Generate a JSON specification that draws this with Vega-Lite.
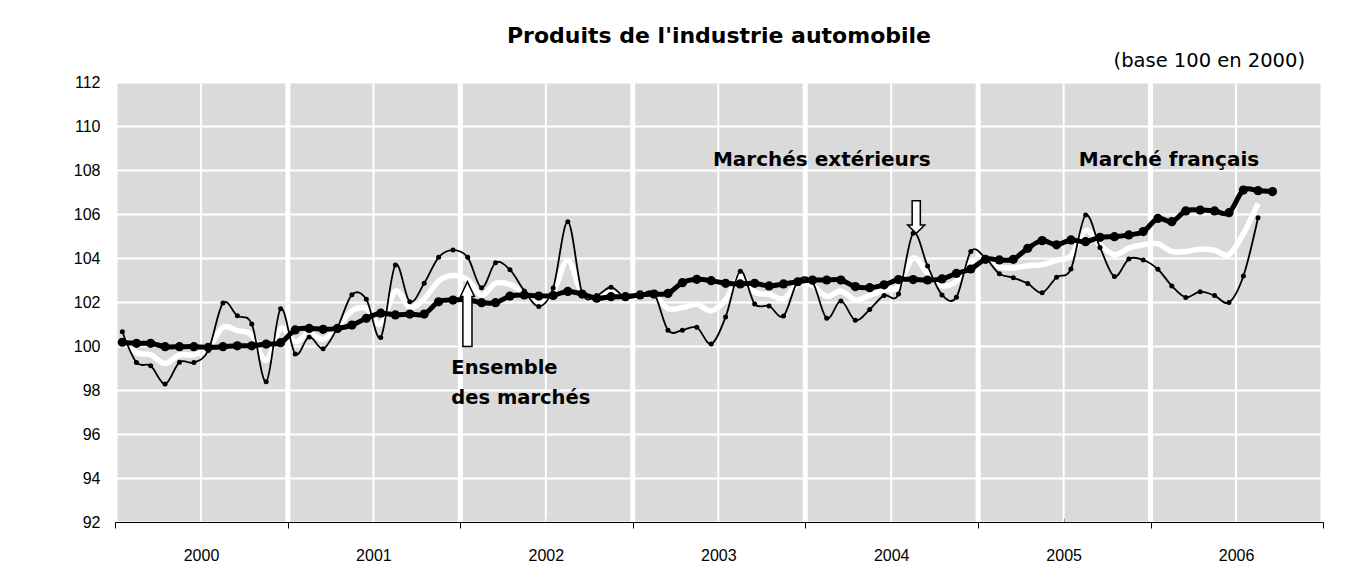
{
  "$schema": "https://vega.github.io/schema/vega-lite/v6.json",
  "width": 1208,
  "height": 440,
  "autosize": {"type": "none"},
  "padding": {"left": 115, "top": 82, "right": 49, "bottom": 48},
  "background": "#ffffff",
  "title": {
    "text": "Produits de l'industrie automobile",
    "anchor": "middle",
    "frame": "group",
    "font": "DejaVu Sans",
    "fontSize": 22,
    "fontWeight": "bold",
    "color": "#000000",
    "offset": 3
  },
  "datasets": {
    "annees": [{"d": "2000-01-01"}, {"d": "2001-01-01"}, {"d": "2002-01-01"}, {"d": "2003-01-01"}, {"d": "2004-01-01"}, {"d": "2005-01-01"}, {"d": "2006-01-01"}, {"d": "2007-01-01"}],
    "semestres": [{"d": "2000-07-01"}, {"d": "2001-07-01"}, {"d": "2002-07-01"}, {"d": "2003-07-01"}, {"d": "2004-07-01"}, {"d": "2005-07-01"}, {"d": "2006-07-01"}],
    "francais": [
      {"mois": "2000-01", "indice": 100.17}, {"mois": "2000-02", "indice": 100.12}, {"mois": "2000-03", "indice": 100.12}, {"mois": "2000-04", "indice": 99.97}, {"mois": "2000-05", "indice": 99.97}, {"mois": "2000-06", "indice": 99.97}, {"mois": "2000-07", "indice": 99.94}, {"mois": "2000-08", "indice": 99.97}, {"mois": "2000-09", "indice": 100.01}, {"mois": "2000-10", "indice": 100.01}, {"mois": "2000-11", "indice": 100.09}, {"mois": "2000-12", "indice": 100.15},
      {"mois": "2001-01", "indice": 100.73}, {"mois": "2001-02", "indice": 100.8}, {"mois": "2001-03", "indice": 100.76}, {"mois": "2001-04", "indice": 100.8}, {"mois": "2001-05", "indice": 100.95}, {"mois": "2001-06", "indice": 101.26}, {"mois": "2001-07", "indice": 101.49}, {"mois": "2001-08", "indice": 101.41}, {"mois": "2001-09", "indice": 101.45}, {"mois": "2001-10", "indice": 101.45}, {"mois": "2001-11", "indice": 102.01}, {"mois": "2001-12", "indice": 102.09},
      {"mois": "2002-01", "indice": 102.1}, {"mois": "2002-02", "indice": 101.97}, {"mois": "2002-03", "indice": 101.97}, {"mois": "2002-04", "indice": 102.27}, {"mois": "2002-05", "indice": 102.32}, {"mois": "2002-06", "indice": 102.27}, {"mois": "2002-07", "indice": 102.3}, {"mois": "2002-08", "indice": 102.48}, {"mois": "2002-09", "indice": 102.36}, {"mois": "2002-10", "indice": 102.17}, {"mois": "2002-11", "indice": 102.24}, {"mois": "2002-12", "indice": 102.24},
      {"mois": "2003-01", "indice": 102.32}, {"mois": "2003-02", "indice": 102.36}, {"mois": "2003-03", "indice": 102.39}, {"mois": "2003-04", "indice": 102.88}, {"mois": "2003-05", "indice": 103.03}, {"mois": "2003-06", "indice": 102.97}, {"mois": "2003-07", "indice": 102.85}, {"mois": "2003-08", "indice": 102.82}, {"mois": "2003-09", "indice": 102.85}, {"mois": "2003-10", "indice": 102.73}, {"mois": "2003-11", "indice": 102.82}, {"mois": "2003-12", "indice": 102.92},
      {"mois": "2004-01", "indice": 103.0}, {"mois": "2004-02", "indice": 103.0}, {"mois": "2004-03", "indice": 103.0}, {"mois": "2004-04", "indice": 102.7}, {"mois": "2004-05", "indice": 102.65}, {"mois": "2004-06", "indice": 102.78}, {"mois": "2004-07", "indice": 103.02}, {"mois": "2004-08", "indice": 103.02}, {"mois": "2004-09", "indice": 103.0}, {"mois": "2004-10", "indice": 103.05}, {"mois": "2004-11", "indice": 103.3}, {"mois": "2004-12", "indice": 103.5},
      {"mois": "2005-01", "indice": 103.94}, {"mois": "2005-02", "indice": 103.91}, {"mois": "2005-03", "indice": 103.94}, {"mois": "2005-04", "indice": 104.44}, {"mois": "2005-05", "indice": 104.79}, {"mois": "2005-06", "indice": 104.6}, {"mois": "2005-07", "indice": 104.82}, {"mois": "2005-08", "indice": 104.74}, {"mois": "2005-09", "indice": 104.94}, {"mois": "2005-10", "indice": 104.97}, {"mois": "2005-11", "indice": 105.05}, {"mois": "2005-12", "indice": 105.2},
      {"mois": "2006-01", "indice": 105.8}, {"mois": "2006-02", "indice": 105.65}, {"mois": "2006-03", "indice": 106.14}, {"mois": "2006-04", "indice": 106.18}, {"mois": "2006-05", "indice": 106.14}, {"mois": "2006-06", "indice": 106.06}, {"mois": "2006-07", "indice": 107.09}, {"mois": "2006-08", "indice": 107.06}, {"mois": "2006-09", "indice": 107.02}
    ],
    "exterieurs": [
      {"mois": "2000-01", "indice": 100.65}, {"mois": "2000-02", "indice": 99.25}, {"mois": "2000-03", "indice": 99.1}, {"mois": "2000-04", "indice": 98.27}, {"mois": "2000-05", "indice": 99.26}, {"mois": "2000-06", "indice": 99.25}, {"mois": "2000-07", "indice": 99.8}, {"mois": "2000-08", "indice": 101.95}, {"mois": "2000-09", "indice": 101.37}, {"mois": "2000-10", "indice": 101.0}, {"mois": "2000-11", "indice": 98.38}, {"mois": "2000-12", "indice": 101.69},
      {"mois": "2001-01", "indice": 99.64}, {"mois": "2001-02", "indice": 100.41}, {"mois": "2001-03", "indice": 99.88}, {"mois": "2001-04", "indice": 100.85}, {"mois": "2001-05", "indice": 102.33}, {"mois": "2001-06", "indice": 102.12}, {"mois": "2001-07", "indice": 100.39}, {"mois": "2001-08", "indice": 103.68}, {"mois": "2001-09", "indice": 102.01}, {"mois": "2001-10", "indice": 102.85}, {"mois": "2001-11", "indice": 104.03}, {"mois": "2001-12", "indice": 104.36},
      {"mois": "2002-01", "indice": 104.03}, {"mois": "2002-02", "indice": 102.65}, {"mois": "2002-03", "indice": 103.78}, {"mois": "2002-04", "indice": 103.47}, {"mois": "2002-05", "indice": 102.5}, {"mois": "2002-06", "indice": 101.8}, {"mois": "2002-07", "indice": 102.64}, {"mois": "2002-08", "indice": 105.65}, {"mois": "2002-09", "indice": 102.4}, {"mois": "2002-10", "indice": 102.3}, {"mois": "2002-11", "indice": 102.67}, {"mois": "2002-12", "indice": 102.2},
      {"mois": "2003-01", "indice": 102.32}, {"mois": "2003-02", "indice": 102.39}, {"mois": "2003-03", "indice": 100.72}, {"mois": "2003-04", "indice": 100.72}, {"mois": "2003-05", "indice": 100.85}, {"mois": "2003-06", "indice": 100.09}, {"mois": "2003-07", "indice": 101.32}, {"mois": "2003-08", "indice": 103.4}, {"mois": "2003-09", "indice": 101.91}, {"mois": "2003-10", "indice": 101.82}, {"mois": "2003-11", "indice": 101.36}, {"mois": "2003-12", "indice": 102.95},
      {"mois": "2004-01", "indice": 102.9}, {"mois": "2004-02", "indice": 101.26}, {"mois": "2004-03", "indice": 102.05}, {"mois": "2004-04", "indice": 101.17}, {"mois": "2004-05", "indice": 101.66}, {"mois": "2004-06", "indice": 102.3}, {"mois": "2004-07", "indice": 102.36}, {"mois": "2004-08", "indice": 105.12}, {"mois": "2004-09", "indice": 103.64}, {"mois": "2004-10", "indice": 102.32}, {"mois": "2004-11", "indice": 102.22}, {"mois": "2004-12", "indice": 104.3},
      {"mois": "2005-01", "indice": 104.0}, {"mois": "2005-02", "indice": 103.28}, {"mois": "2005-03", "indice": 103.1}, {"mois": "2005-04", "indice": 102.84}, {"mois": "2005-05", "indice": 102.42}, {"mois": "2005-06", "indice": 103.12}, {"mois": "2005-07", "indice": 103.5}, {"mois": "2005-08", "indice": 105.95}, {"mois": "2005-09", "indice": 104.48}, {"mois": "2005-10", "indice": 103.16}, {"mois": "2005-11", "indice": 103.95}, {"mois": "2005-12", "indice": 103.91},
      {"mois": "2006-01", "indice": 103.49}, {"mois": "2006-02", "indice": 102.73}, {"mois": "2006-03", "indice": 102.21}, {"mois": "2006-04", "indice": 102.47}, {"mois": "2006-05", "indice": 102.29}, {"mois": "2006-06", "indice": 101.98}, {"mois": "2006-07", "indice": 103.18}, {"mois": "2006-08", "indice": 105.83}
    ],
    "ensemble": [
      {"mois": "2000-01", "indice": 100.4}, {"mois": "2000-02", "indice": 99.7}, {"mois": "2000-03", "indice": 99.6}, {"mois": "2000-04", "indice": 99.2}, {"mois": "2000-05", "indice": 99.6}, {"mois": "2000-06", "indice": 99.6}, {"mois": "2000-07", "indice": 99.9}, {"mois": "2000-08", "indice": 100.85}, {"mois": "2000-09", "indice": 100.7}, {"mois": "2000-10", "indice": 100.5}, {"mois": "2000-11", "indice": 99.35}, {"mois": "2000-12", "indice": 100.8},
      {"mois": "2001-01", "indice": 100.2}, {"mois": "2001-02", "indice": 100.6}, {"mois": "2001-03", "indice": 100.3}, {"mois": "2001-04", "indice": 100.85}, {"mois": "2001-05", "indice": 101.6}, {"mois": "2001-06", "indice": 101.7}, {"mois": "2001-07", "indice": 101.0}, {"mois": "2001-08", "indice": 102.5}, {"mois": "2001-09", "indice": 101.75}, {"mois": "2001-10", "indice": 102.15}, {"mois": "2001-11", "indice": 102.95}, {"mois": "2001-12", "indice": 103.2},
      {"mois": "2002-01", "indice": 103.0}, {"mois": "2002-02", "indice": 102.3}, {"mois": "2002-03", "indice": 102.85}, {"mois": "2002-04", "indice": 102.8}, {"mois": "2002-05", "indice": 102.4}, {"mois": "2002-06", "indice": 102.0}, {"mois": "2002-07", "indice": 102.45}, {"mois": "2002-08", "indice": 103.9}, {"mois": "2002-09", "indice": 102.35}, {"mois": "2002-10", "indice": 102.25}, {"mois": "2002-11", "indice": 102.45}, {"mois": "2002-12", "indice": 102.2},
      {"mois": "2003-01", "indice": 102.3}, {"mois": "2003-02", "indice": 102.35}, {"mois": "2003-03", "indice": 101.7}, {"mois": "2003-04", "indice": 101.75}, {"mois": "2003-05", "indice": 101.9}, {"mois": "2003-06", "indice": 101.6}, {"mois": "2003-07", "indice": 102.1}, {"mois": "2003-08", "indice": 103.15}, {"mois": "2003-09", "indice": 102.45}, {"mois": "2003-10", "indice": 102.35}, {"mois": "2003-11", "indice": 102.15}, {"mois": "2003-12", "indice": 102.8},
      {"mois": "2004-01", "indice": 102.75}, {"mois": "2004-02", "indice": 102.25}, {"mois": "2004-03", "indice": 102.5}, {"mois": "2004-04", "indice": 102.1}, {"mois": "2004-05", "indice": 102.3}, {"mois": "2004-06", "indice": 102.55}, {"mois": "2004-07", "indice": 102.7}, {"mois": "2004-08", "indice": 104.0}, {"mois": "2004-09", "indice": 103.3}, {"mois": "2004-10", "indice": 102.75}, {"mois": "2004-11", "indice": 102.95}, {"mois": "2004-12", "indice": 103.8},
      {"mois": "2005-01", "indice": 103.95}, {"mois": "2005-02", "indice": 103.6}, {"mois": "2005-03", "indice": 103.55}, {"mois": "2005-04", "indice": 103.65}, {"mois": "2005-05", "indice": 103.7}, {"mois": "2005-06", "indice": 103.9}, {"mois": "2005-07", "indice": 104.1}, {"mois": "2005-08", "indice": 105.25}, {"mois": "2005-09", "indice": 104.6}, {"mois": "2005-10", "indice": 104.15}, {"mois": "2005-11", "indice": 104.45}, {"mois": "2005-12", "indice": 104.6},
      {"mois": "2006-01", "indice": 104.65}, {"mois": "2006-02", "indice": 104.3}, {"mois": "2006-03", "indice": 104.3}, {"mois": "2006-04", "indice": 104.4}, {"mois": "2006-05", "indice": 104.35}, {"mois": "2006-06", "indice": 104.15}, {"mois": "2006-07", "indice": 105.1}, {"mois": "2006-08", "indice": 106.48}
    ],
    "notes": [
      {"texte": "Marchés extérieurs", "date": "2004-02-05", "valeur": 108.45},
      {"texte": "Marché français", "date": "2006-02-09", "valeur": 108.45},
      {"texte": "Ensemble\ndes marchés", "date": "2001-12-13", "valeur": 99.0},
      {"texte": "(base 100 en 2000)", "date": "2006-11-24", "valeur": 112.95}
    ],
    "fleches": [
      {"serie": "Ensemble des marchés", "date": "2002-01-16", "valeur": 101.45},
      {"serie": "Marchés extérieurs", "date": "2004-08-23", "valeur": 105.86}
    ]
  },
  "layer": [
    {
      "data": {"name": "annees"},
      "mark": {"type": "rule", "color": "#ffffff", "strokeWidth": 5},
      "encoding": {
        "x": {"field": "d", "type": "temporal",
          "scale": {"type": "utc", "domain": [{"year": 2000, "month": 1, "date": 1, "utc": true}, {"year": 2007, "month": 1, "date": 1, "utc": true}]},
          "axis": {"orient": "bottom", "title": null, "grid": false, "labels": false, "domain": true, "domainColor": "#000000", "domainWidth": 1, "ticks": true, "tickSize": 6, "tickWidth": 1, "tickColor": "#000000",
            "values": [{"year": 2000, "month": 1, "date": 1, "utc": true}, {"year": 2001, "month": 1, "date": 1, "utc": true}, {"year": 2002, "month": 1, "date": 1, "utc": true}, {"year": 2003, "month": 1, "date": 1, "utc": true}, {"year": 2004, "month": 1, "date": 1, "utc": true}, {"year": 2005, "month": 1, "date": 1, "utc": true}, {"year": 2006, "month": 1, "date": 1, "utc": true}, {"year": 2007, "month": 1, "date": 1, "utc": true}]}}
      }
    },
    {
      "data": {"name": "semestres"},
      "mark": {"type": "rule", "color": "#ffffff", "strokeWidth": 2},
      "encoding": {
        "x": {"field": "d", "type": "temporal",
          "scale": {"type": "utc", "domain": [{"year": 2000, "month": 1, "date": 1, "utc": true}, {"year": 2007, "month": 1, "date": 1, "utc": true}]},
          "axis": {"orient": "bottom", "title": null, "grid": false, "labels": false, "domain": false, "ticks": true, "tickSize": -4, "tickWidth": 1, "tickColor": "#000000",
            "values": [{"year": 2000, "month": 7, "date": 1, "utc": true}, {"year": 2001, "month": 7, "date": 1, "utc": true}, {"year": 2002, "month": 7, "date": 1, "utc": true}, {"year": 2003, "month": 7, "date": 1, "utc": true}, {"year": 2004, "month": 7, "date": 1, "utc": true}, {"year": 2005, "month": 7, "date": 1, "utc": true}, {"year": 2006, "month": 7, "date": 1, "utc": true}]}}
      }
    },
    {
      "data": {"name": "ensemble"},
      "mark": {"type": "line", "color": "#ffffff", "strokeWidth": 5.5, "interpolate": "cardinal"},
      "encoding": {
        "x": {"field": "mois", "timeUnit": "utcyearmonth", "type": "temporal", "bandPosition": 0.5,
          "scale": {"type": "utc", "domain": [{"year": 2000, "month": 1, "date": 1, "utc": true}, {"year": 2007, "month": 1, "date": 1, "utc": true}]},
          "axis": {"orient": "bottom", "title": null, "grid": false, "ticks": false, "domain": false, "labelPadding": 25, "labelExpr": "utcFormat(datum.value, '%Y')", "labelFont": "Liberation Sans", "labelFontSize": 16, "labelColor": "#000000",
            "values": [{"year": 2000, "month": 7, "date": 1, "utc": true}, {"year": 2001, "month": 7, "date": 1, "utc": true}, {"year": 2002, "month": 7, "date": 1, "utc": true}, {"year": 2003, "month": 7, "date": 1, "utc": true}, {"year": 2004, "month": 7, "date": 1, "utc": true}, {"year": 2005, "month": 7, "date": 1, "utc": true}, {"year": 2006, "month": 7, "date": 1, "utc": true}]}},
        "y": {"field": "indice", "type": "quantitative",
          "scale": {"domain": [92, 112], "nice": false, "zero": false},
          "axis": {"title": null, "values": [92, 94, 96, 98, 100, 102, 104, 106, 108, 110, 112], "grid": true, "gridColor": "#ffffff", "gridWidth": 2, "ticks": false, "domain": false, "labelPadding": 15, "labelFont": "Liberation Sans", "labelFontSize": 16, "labelColor": "#000000"}}
      }
    },
    {
      "data": {"name": "exterieurs"},
      "mark": {"type": "line", "color": "#000000", "strokeWidth": 1.8, "interpolate": "cardinal"},
      "encoding": {
        "x": {"field": "mois", "timeUnit": "utcyearmonth", "type": "temporal", "bandPosition": 0.5,
          "scale": {"type": "utc", "domain": [{"year": 2000, "month": 1, "date": 1, "utc": true}, {"year": 2007, "month": 1, "date": 1, "utc": true}]},
          "axis": {"orient": "bottom", "title": null, "grid": false, "labels": false, "domain": false, "ticks": true, "tickSize": -6, "tickWidth": 1, "tickColor": "#000000",
            "values": [{"year": 2000, "month": 1, "date": 1, "utc": true}, {"year": 2001, "month": 1, "date": 1, "utc": true}, {"year": 2002, "month": 1, "date": 1, "utc": true}, {"year": 2003, "month": 1, "date": 1, "utc": true}, {"year": 2004, "month": 1, "date": 1, "utc": true}, {"year": 2005, "month": 1, "date": 1, "utc": true}, {"year": 2006, "month": 1, "date": 1, "utc": true}, {"year": 2007, "month": 1, "date": 1, "utc": true}]}},
        "y": {"field": "indice", "type": "quantitative", "scale": {"domain": [92, 112], "nice": false, "zero": false},
          "axis": {"title": null, "values": [92, 94, 96, 98, 100, 102, 104, 106, 108, 110, 112], "grid": true, "gridColor": "#ffffff", "gridWidth": 2, "ticks": false, "domain": false, "labelPadding": 15, "labelFont": "Liberation Sans", "labelFontSize": 16, "labelColor": "#000000"}}
      }
    },
    {
      "data": {"name": "exterieurs"},
      "mark": {"type": "point", "filled": true, "color": "#000000", "opacity": 1, "size": 25},
      "encoding": {
        "x": {"field": "mois", "timeUnit": "utcyearmonth", "type": "temporal", "bandPosition": 0.5,
          "scale": {"type": "utc", "domain": [{"year": 2000, "month": 1, "date": 1, "utc": true}, {"year": 2007, "month": 1, "date": 1, "utc": true}]}, "axis": null},
        "y": {"field": "indice", "type": "quantitative", "scale": {"domain": [92, 112], "nice": false, "zero": false},
          "axis": {"title": null, "values": [92, 94, 96, 98, 100, 102, 104, 106, 108, 110, 112], "grid": true, "gridColor": "#ffffff", "gridWidth": 2, "ticks": false, "domain": false, "labelPadding": 15, "labelFont": "Liberation Sans", "labelFontSize": 16, "labelColor": "#000000"}}
      }
    },
    {
      "data": {"name": "francais"},
      "mark": {"type": "line", "color": "#000000", "strokeWidth": 5, "interpolate": "cardinal"},
      "encoding": {
        "x": {"field": "mois", "timeUnit": "utcyearmonth", "type": "temporal", "bandPosition": 0.5,
          "scale": {"type": "utc", "domain": [{"year": 2000, "month": 1, "date": 1, "utc": true}, {"year": 2007, "month": 1, "date": 1, "utc": true}]}, "axis": null},
        "y": {"field": "indice", "type": "quantitative", "scale": {"domain": [92, 112], "nice": false, "zero": false},
          "axis": {"title": null, "values": [92, 94, 96, 98, 100, 102, 104, 106, 108, 110, 112], "grid": true, "gridColor": "#ffffff", "gridWidth": 2, "ticks": false, "domain": false, "labelPadding": 15, "labelFont": "Liberation Sans", "labelFontSize": 16, "labelColor": "#000000"}}
      }
    },
    {
      "data": {"name": "francais"},
      "mark": {"type": "point", "filled": true, "color": "#000000", "opacity": 1, "size": 85},
      "encoding": {
        "x": {"field": "mois", "timeUnit": "utcyearmonth", "type": "temporal", "bandPosition": 0.5,
          "scale": {"type": "utc", "domain": [{"year": 2000, "month": 1, "date": 1, "utc": true}, {"year": 2007, "month": 1, "date": 1, "utc": true}]}, "axis": null},
        "y": {"field": "indice", "type": "quantitative", "scale": {"domain": [92, 112], "nice": false, "zero": false},
          "axis": {"title": null, "values": [92, 94, 96, 98, 100, 102, 104, 106, 108, 110, 112], "grid": true, "gridColor": "#ffffff", "gridWidth": 2, "ticks": false, "domain": false, "labelPadding": 15, "labelFont": "Liberation Sans", "labelFontSize": 16, "labelColor": "#000000"}}
      }
    },
    {
      "data": {"name": "fleches"},
      "transform": [{"filter": "datum.serie === 'Ensemble des marchés'"}],
      "mark": {"type": "point", "filled": true, "fill": "#ffffff", "stroke": "#000000", "strokeWidth": 1.5, "opacity": 1, "size": 4225, "shape": "M0,-1L0.215,-0.54L0.14,-0.54L0.14,1L-0.14,1L-0.14,-0.54L-0.215,-0.54Z"},
      "encoding": {
        "x": {"field": "date", "type": "temporal", "scale": {"type": "utc", "domain": [{"year": 2000, "month": 1, "date": 1, "utc": true}, {"year": 2007, "month": 1, "date": 1, "utc": true}]}, "axis": null},
        "y": {"field": "valeur", "type": "quantitative", "scale": {"domain": [92, 112], "nice": false, "zero": false},
          "axis": {"title": null, "values": [92, 94, 96, 98, 100, 102, 104, 106, 108, 110, 112], "grid": true, "gridColor": "#ffffff", "gridWidth": 2, "ticks": false, "domain": false, "labelPadding": 15, "labelFont": "Liberation Sans", "labelFontSize": 16, "labelColor": "#000000"}}
      }
    },
    {
      "data": {"name": "fleches"},
      "transform": [{"filter": "datum.serie === 'Marchés extérieurs'"}],
      "mark": {"type": "point", "filled": true, "fill": "#ffffff", "stroke": "#000000", "strokeWidth": 1.5, "opacity": 1, "size": 1063, "shape": "M0,1L0.52,0.49L0.25,0.49L0.25,-1L-0.25,-1L-0.25,0.49L-0.52,0.49Z"},
      "encoding": {
        "x": {"field": "date", "type": "temporal", "scale": {"type": "utc", "domain": [{"year": 2000, "month": 1, "date": 1, "utc": true}, {"year": 2007, "month": 1, "date": 1, "utc": true}]}, "axis": null},
        "y": {"field": "valeur", "type": "quantitative", "scale": {"domain": [92, 112], "nice": false, "zero": false},
          "axis": {"title": null, "values": [92, 94, 96, 98, 100, 102, 104, 106, 108, 110, 112], "grid": true, "gridColor": "#ffffff", "gridWidth": 2, "ticks": false, "domain": false, "labelPadding": 15, "labelFont": "Liberation Sans", "labelFontSize": 16, "labelColor": "#000000"}}
      }
    },
    {
      "data": {"name": "notes"},
      "transform": [{"filter": {"field": "texte", "oneOf": ["Marchés extérieurs", "Marché français"]}}],
      "mark": {"type": "text", "align": "center", "baseline": "middle", "font": "DejaVu Sans", "fontWeight": "bold", "fontSize": 20, "color": "#000000"},
      "encoding": {
        "x": {"field": "date", "type": "temporal", "scale": {"type": "utc", "domain": [{"year": 2000, "month": 1, "date": 1, "utc": true}, {"year": 2007, "month": 1, "date": 1, "utc": true}]}, "axis": null},
        "y": {"field": "valeur", "type": "quantitative", "scale": {"domain": [92, 112], "nice": false, "zero": false},
          "axis": {"title": null, "values": [92, 94, 96, 98, 100, 102, 104, 106, 108, 110, 112], "grid": true, "gridColor": "#ffffff", "gridWidth": 2, "ticks": false, "domain": false, "labelPadding": 15, "labelFont": "Liberation Sans", "labelFontSize": 16, "labelColor": "#000000"}},
        "text": {"field": "texte", "type": "nominal"}
      }
    },
    {
      "data": {"name": "notes"},
      "transform": [{"filter": "indexof(datum.texte, 'Ensemble') === 0"}],
      "mark": {"type": "text", "align": "left", "baseline": "middle", "lineBreak": "\n", "lineHeight": 30, "font": "DejaVu Sans", "fontWeight": "bold", "fontSize": 19.5, "color": "#000000"},
      "encoding": {
        "x": {"field": "date", "type": "temporal", "scale": {"type": "utc", "domain": [{"year": 2000, "month": 1, "date": 1, "utc": true}, {"year": 2007, "month": 1, "date": 1, "utc": true}]}, "axis": null},
        "y": {"field": "valeur", "type": "quantitative", "scale": {"domain": [92, 112], "nice": false, "zero": false},
          "axis": {"title": null, "values": [92, 94, 96, 98, 100, 102, 104, 106, 108, 110, 112], "grid": true, "gridColor": "#ffffff", "gridWidth": 2, "ticks": false, "domain": false, "labelPadding": 15, "labelFont": "Liberation Sans", "labelFontSize": 16, "labelColor": "#000000"}},
        "text": {"field": "texte", "type": "nominal"}
      }
    },
    {
      "data": {"name": "notes"},
      "transform": [{"filter": "datum.texte === '(base 100 en 2000)'"}],
      "mark": {"type": "text", "align": "right", "baseline": "middle", "font": "DejaVu Sans", "fontSize": 19.5, "color": "#000000"},
      "encoding": {
        "x": {"field": "date", "type": "temporal", "scale": {"type": "utc", "domain": [{"year": 2000, "month": 1, "date": 1, "utc": true}, {"year": 2007, "month": 1, "date": 1, "utc": true}]}, "axis": null},
        "y": {"field": "valeur", "type": "quantitative", "scale": {"domain": [92, 112], "nice": false, "zero": false},
          "axis": {"title": null, "values": [92, 94, 96, 98, 100, 102, 104, 106, 108, 110, 112], "grid": true, "gridColor": "#ffffff", "gridWidth": 2, "ticks": false, "domain": false, "labelPadding": 15, "labelFont": "Liberation Sans", "labelFontSize": 16, "labelColor": "#000000"}},
        "text": {"field": "texte", "type": "nominal"}
      }
    }
  ],
  "resolve": {"axis": {"x": "independent"}},
  "config": {
    "view": {"fill": "#dadada", "stroke": null},
    "axis": {"labelFont": "Liberation Sans", "labelFontSize": 16, "labelColor": "#000000"}
  }
}
